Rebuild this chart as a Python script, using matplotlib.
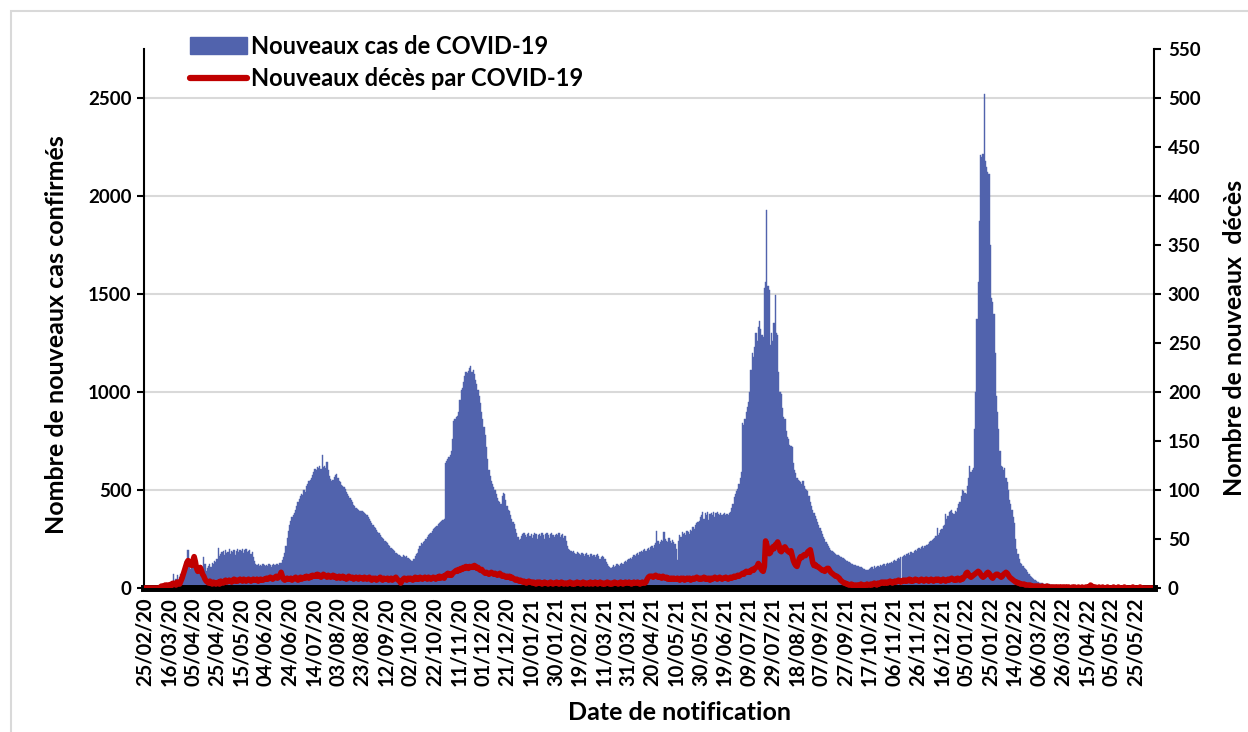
import matplotlib
matplotlib.use("Agg")
import matplotlib.pyplot as plt
import numpy as np
import pandas as pd
from matplotlib.patches import Patch, Rectangle
from matplotlib.lines import Line2D

plt.rcParams['font.family'] = ['Lato', 'DejaVu Sans']
plt.rcParams['font.weight'] = 'bold'

start_date = "2020-02-25"
label_every = 20

# daily new confirmed cases (one line = 20 days)
cases = [
    0, 0, 0, 0, 1, 0, 2, 0, 1, 3, 2, 0, 4, 1, 3, 2, 5, 3, 6, 4,
    10, 18, 35, 20, 70, 30, 45, 68, 40, 55, 70, 50, 85, 110, 140, 150, 192, 120, 95, 110,
    105, 90, 80, 115, 100, 75, 95, 110, 90, 158, 120, 85, 100, 110, 120, 105, 130, 125, 140, 135,
    150, 205, 165, 175, 185, 190, 170, 195, 180, 185, 200, 175, 190, 185, 195, 170, 190, 200, 185, 195,
    190, 200, 180, 195, 200, 185, 190, 195, 175, 185, 160, 140, 125, 115, 120, 110, 118, 112, 120, 115,
    110, 118, 112, 120, 115, 108, 118, 122, 115, 120, 125, 118, 128, 130, 145, 160, 178, 215, 255, 290,
    320, 340, 360, 375, 385, 400, 420, 440, 455, 470, 480, 475, 500, 490, 520, 530, 545, 550, 560, 575,
    590, 605, 600, 615, 610, 620, 605, 680, 615, 625, 610, 645, 600, 570, 555, 545, 550, 565, 575, 580,
    560, 545, 540, 525, 520, 515, 505, 490, 480, 470, 460, 450, 440, 425, 420, 410, 405, 400, 395, 392,
    395, 390, 385, 380, 370, 360, 350, 340, 330, 320, 312, 305, 295, 288, 280, 270, 262, 255, 248, 240,
    235, 228, 220, 215, 205, 200, 192, 188, 180, 175, 170, 168, 165, 160, 170, 165, 158, 162, 155, 150,
    145, 140, 138, 150, 165, 175, 180, 200, 215, 228, 225, 235, 240, 250, 262, 270, 275, 280, 290, 300,
    305, 310, 315, 325, 330, 335, 340, 345, 350, 640, 650, 660, 670, 680, 700, 760, 850, 860, 870, 880,
    900, 960, 1010, 1020, 1050, 1080, 1100, 1095, 1105, 1120, 1135, 1100, 1110, 1090, 1060, 1040, 1010, 980, 945, 900,
    860, 820, 780, 720, 660, 600, 570, 545, 530, 515, 500, 480, 460, 445, 440, 430, 470, 485, 480, 450,
    420, 400, 395, 370, 350, 335, 325, 300, 280, 260, 245, 250, 265, 275, 280, 270, 260, 275, 280, 265,
    275, 255, 270, 280, 275, 250, 270, 278, 265, 280, 270, 248, 275, 280, 270, 255, 275, 282, 270, 260,
    270, 275, 268, 280, 262, 270, 275, 255, 265, 240, 215, 200, 195, 190, 185, 190, 180, 175, 185, 180,
    175, 170, 180, 172, 165, 175, 178, 168, 160, 172, 175, 165, 170, 160, 168, 172, 162, 150, 160, 165,
    160, 150, 135, 120, 110, 105, 100, 108, 115, 105, 112, 120, 118, 110, 125, 130, 122, 135, 140, 132,
    145, 150, 155, 148, 160, 168, 162, 175, 180, 170, 185, 190, 182, 195, 198, 188, 200, 205, 195, 210,
    215, 205, 220, 230, 290, 240, 225, 235, 245, 240, 285, 250, 240, 235, 255, 240, 230, 245, 235, 225,
    200, 145, 240, 270, 260, 285, 275, 280, 270, 290, 285, 275, 295, 290, 310, 300, 320, 330, 335, 340,
    360, 375, 390, 350, 385, 370, 390, 345, 380, 385, 375, 390, 360, 385, 390, 380, 370, 385, 375, 380,
    385, 370, 380, 375, 385, 390, 410, 430, 465, 480, 495, 505, 530, 560, 590, 840, 830, 860, 900, 925,
    950, 1000, 1110, 1200, 1180, 1230, 1300, 1260, 1330, 1360, 1320, 1290, 1280, 1530, 1560, 1930, 1540, 1520, 1240, 1300,
    1260, 1350, 1495, 1300, 1290, 1100, 1000, 990, 920, 870, 860, 800, 770, 760, 730, 725, 720, 640, 600, 585,
    560, 550, 545, 540, 530, 545, 520, 505, 500, 495, 470, 440, 420, 400, 385, 365, 350, 335, 320, 305,
    290, 275, 260, 248, 235, 225, 215, 205, 195, 190, 182, 178, 172, 170, 168, 165, 160, 158, 155, 150,
    145, 140, 138, 132, 128, 125, 122, 118, 115, 112, 110, 112, 108, 105, 100, 98, 95, 92, 90, 92,
    95, 100, 105, 98, 110, 102, 108, 112, 105, 115, 110, 118, 120, 112, 125, 128, 120, 130, 135, 128,
    140, 145, 138, 150, 155, 148, 160, 158, 165, 170, 162, 175, 178, 170, 182, 185, 178, 190, 195, 188,
    200, 205, 198, 210, 215, 205, 212, 220, 218, 225, 235, 240, 245, 250, 255, 265, 305, 270, 280, 295,
    300, 315, 320, 380, 350, 365, 390, 395, 400, 385, 380, 395, 390, 410, 430, 440, 470, 500, 495, 485,
    480, 520, 560, 620, 590, 600, 610, 810, 1000, 1370, 1560, 1870, 2210, 2200, 2215, 2520, 2180, 2150, 2120, 2110,
    1750, 1480, 1460, 1400, 1200, 980, 900, 810, 700, 620, 615, 600, 610, 560, 540, 500, 450, 430, 400, 360,
    330, 250, 200, 175, 150, 130, 120, 110, 100, 95, 90, 80, 70, 62, 58, 50, 45, 40, 36, 32,
    30, 28, 25, 24, 22, 20, 21, 19, 18, 20, 17, 15, 14, 12, 13, 11, 10, 9, 10, 8,
    8, 7, 6, 7, 5, 6, 5, 4, 6, 5, 4, 5, 3, 4, 5, 3, 4, 3, 2, 3,
    3, 2, 4, 2, 3, 2, 1, 2, 3, 2, 1, 2, 1, 2, 2, 1, 1, 2, 1, 1,
    1, 0, 1, 1, 0, 1, 0, 1, 1, 0, 0, 1, 0, 0, 1, 0, 0, 0, 1, 0,
    0, 0, 1, 0, 0, 0, 0, 1, 0, 0, 0, 0, 0, 0, 0, 0,
]

# daily new deaths (one line = 20 days)
deaths = [
    0, 0, 0, 0, 0, 0, 0, 0, 0, 0, 0, 0, 0, 1, 2, 1, 2, 3, 2, 3,
    3, 2, 4, 3, 5, 4, 3, 6, 5, 4, 7, 10, 14, 18, 22, 26, 28, 25, 24, 23,
    28, 32, 27, 20, 17, 19, 21, 18, 14, 12, 9, 7, 6, 5, 7, 5, 4, 6, 5, 4,
    5, 6, 4, 7, 6, 5, 7, 8, 6, 7, 8, 7, 6, 8, 9, 7, 8, 7, 8, 9,
    8, 7, 9, 8, 7, 8, 9, 8, 7, 8, 9, 8, 8, 9, 7, 8, 9, 8, 8, 9,
    9, 10, 9, 10, 11, 10, 9, 10, 11, 12, 10, 11, 13, 16, 12, 9, 8, 9, 10, 9,
    9, 10, 8, 9, 10, 11, 9, 8, 10, 11, 9, 10, 11, 10, 12, 11, 10, 12, 11, 13,
    12, 13, 12, 14, 12, 13, 11, 12, 14, 13, 12, 11, 13, 12, 11, 12, 13, 11, 12, 10,
    11, 12, 10, 11, 12, 10, 11, 9, 10, 12, 11, 10, 11, 9, 10, 11, 10, 9, 11, 10,
    10, 9, 11, 10, 9, 10, 11, 9, 8, 10, 9, 10, 8, 9, 10, 11, 9, 8, 10, 9,
    9, 10, 8, 9, 10, 8, 9, 10, 11, 9, 8, 7, 5, 7, 9, 10, 9, 8, 10, 9,
    10, 9, 8, 10, 11, 9, 10, 9, 11, 10, 9, 10, 11, 10, 9, 11, 10, 9, 10, 11,
    10, 9, 11, 10, 12, 10, 11, 12, 10, 13, 14, 15, 13, 14, 13, 15, 16, 17, 18, 17,
    19, 18, 20, 19, 21, 20, 22, 21, 20, 22, 21, 22, 21, 23, 22, 20, 21, 19, 18, 19,
    17, 16, 15, 16, 15, 14, 15, 16, 15, 14, 15, 14, 13, 14, 15, 13, 12, 13, 12, 11,
    12, 11, 12, 10, 11, 10, 9, 8, 9, 8, 7, 8, 7, 6, 7, 6, 5, 6, 7, 6,
    6, 5, 6, 5, 4, 6, 5, 6, 5, 4, 5, 6, 5, 5, 4, 5, 6, 5, 4, 5,
    5, 6, 5, 4, 5, 6, 5, 4, 5, 5, 4, 5, 6, 5, 4, 5, 4, 5, 6, 5,
    5, 4, 5, 6, 5, 4, 5, 5, 4, 6, 5, 4, 5, 6, 5, 4, 5, 6, 5, 4,
    5, 4, 5, 6, 5, 4, 5, 4, 5, 6, 5, 5, 4, 5, 6, 5, 4, 5, 6, 5,
    5, 6, 5, 4, 5, 6, 5, 5, 6, 5, 4, 5, 6, 5, 5, 6, 9, 11, 12, 12,
    12, 11, 12, 13, 12, 11, 12, 11, 10, 12, 11, 10, 11, 9, 10, 9, 10, 9, 10, 9,
    9, 10, 9, 8, 10, 9, 10, 8, 9, 10, 9, 10, 8, 9, 10, 9, 10, 11, 10, 9,
    10, 9, 10, 11, 9, 10, 9, 10, 8, 10, 9, 10, 11, 10, 9, 10, 11, 10, 9, 10,
    10, 11, 10, 9, 10, 11, 10, 11, 12, 11, 12, 13, 12, 13, 14, 15, 14, 16, 17, 16,
    17, 16, 18, 19, 18, 20, 21, 22, 25, 23, 20, 18, 17, 22, 48, 44, 38, 35, 36, 40,
    42, 40, 44, 45, 47, 44, 38, 37, 39, 41, 42, 40, 38, 37, 36, 38, 33, 28, 25, 23,
    22, 26, 30, 32, 31, 33, 34, 33, 35, 37, 38, 39, 33, 26, 23, 24, 22, 22, 21, 20,
    19, 18, 18, 17, 19, 20, 20, 18, 16, 15, 14, 13, 12, 12, 11, 10, 8, 7, 6, 5,
    5, 4, 4, 3, 3, 4, 3, 2, 3, 3, 2, 3, 3, 4, 3, 2, 3, 3, 4, 3,
    3, 4, 3, 4, 5, 4, 3, 5, 4, 5, 6, 5, 6, 5, 6, 5, 6, 7, 6, 5,
    6, 7, 6, 7, 8, 7, 6, 7, 8, 7, 8, 7, 8, 9, 7, 8, 7, 8, 9, 8,
    8, 7, 8, 9, 8, 7, 8, 9, 8, 7, 8, 9, 8, 7, 8, 9, 8, 9, 8, 7,
    8, 9, 8, 7, 8, 9, 8, 9, 10, 9, 8, 9, 8, 10, 9, 8, 10, 9, 11, 12,
    15, 16, 14, 12, 11, 12, 13, 14, 15, 16, 17, 16, 14, 12, 11, 12, 13, 15, 16, 15,
    13, 11, 10, 12, 13, 14, 14, 13, 12, 11, 12, 14, 15, 16, 15, 13, 11, 10, 9, 8,
    7, 6, 6, 5, 5, 4, 4, 4, 4, 3, 3, 3, 3, 3, 2, 2, 2, 2, 1, 2,
    2, 1, 1, 2, 1, 1, 1, 2, 1, 1, 1, 0, 1, 1, 1, 0, 1, 1, 0, 1,
    1, 0, 1, 0, 1, 1, 0, 0, 1, 0, 1, 0, 0, 1, 0, 0, 1, 0, 0, 1,
    0, 1, 1, 3, 2, 1, 0, 1, 0, 0, 1, 0, 0, 1, 0, 0, 0, 1, 0, 0,
    0, 0, 1, 0, 0, 0, 1, 0, 0, 0, 0, 1, 0, 0, 0, 0, 0, 0, 1, 0,
    0, 0, 0, 0, 1, 0, 0, 0, 0, 0, 0, 0, 0, 0, 0, 0,
]

BLUE = "#5163AD"
RED = "#C00000"

dates = pd.date_range(start_date, periods=len(cases), freq="D")
days = np.arange(len(cases))

W, H = 1248, 732
fig = plt.figure(figsize=(W / 100, H / 100), dpi=100)
ax = fig.add_axes([144 / W, 1 - 588 / H, (1154 - 144) / W, (588 - 49) / H])

ax.bar(days, cases, width=1.0, color=BLUE, edgecolor=BLUE, linewidth=0.3)
ax.set_xlim(-0.5, len(cases) - 0.5)
ax.set_ylim(0, 2750)
ax.set_yticks(range(0, 2501, 500))
ax.yaxis.grid(True, color="#D9D9D9", linewidth=1.5)
ax.set_axisbelow(True)

ax.set_xticks(days[::label_every])
ax.set_xticklabels([d.strftime("%d/%m/%y") for d in dates[::label_every]],
                   rotation=90, fontsize=14.5, fontweight='bold')
ax.tick_params(axis='x', length=0, pad=7)
ax.tick_params(axis='y', direction='out', length=5, width=1.5, labelsize=13.5, pad=4)

ax.spines['top'].set_visible(False)
ax.spines['right'].set_visible(False)
ax.spines['left'].set_linewidth(1.5)
ax.spines['bottom'].set_linewidth(5)

ax2 = ax.twinx()
ax2.plot(days, deaths, color=RED, linewidth=4, solid_joinstyle='round', solid_capstyle='round')
ax2.set_ylim(0, 550)
ax2.set_yticks(range(0, 551, 50))
ax2.tick_params(axis='y', direction='out', length=5, width=1.5, labelsize=13.5, pad=5)
for s in ['top', 'bottom', 'left']:
    ax2.spines[s].set_visible(False)
ax2.spines['right'].set_linewidth(1.5)

fig.text(57 / W, 1 - 335 / H, "Nombre de nouveaux cas confirmés", rotation=90,
         ha='center', va='center', fontsize=18, fontweight='bold')
fig.text(1235 / W, 1 - 338 / H, "Nombre de nouveaux  décès", rotation=90,
         ha='center', va='center', fontsize=18, fontweight='bold')
fig.text(680 / W, 1 - 712 / H, "Date de notification",
         ha='center', va='center', fontsize=18, fontweight='bold')

handles = [Patch(facecolor=BLUE, edgecolor=BLUE),
           Line2D([0], [0], color=RED, linewidth=4.5, solid_capstyle='round')]
fig.legend(handles, ["Nouveaux cas de COVID-19", "Nouveaux décès par COVID-19"],
           loc='upper left', bbox_to_anchor=(190 / W, 1 - 35 / H), frameon=False,
           prop={'size': 17, 'weight': 'bold'}, handlelength=2.4, handleheight=0.75,
           handletextpad=0.2, labelspacing=0.38, borderpad=0, borderaxespad=0)

fig.add_artist(Rectangle((11 / W, -0.5), 2, 1.5 - 11 / H, transform=fig.transFigure,
                         fill=False, edgecolor="#D9D9D9", linewidth=1.5))

fig.savefig("out.png", dpi=100)
